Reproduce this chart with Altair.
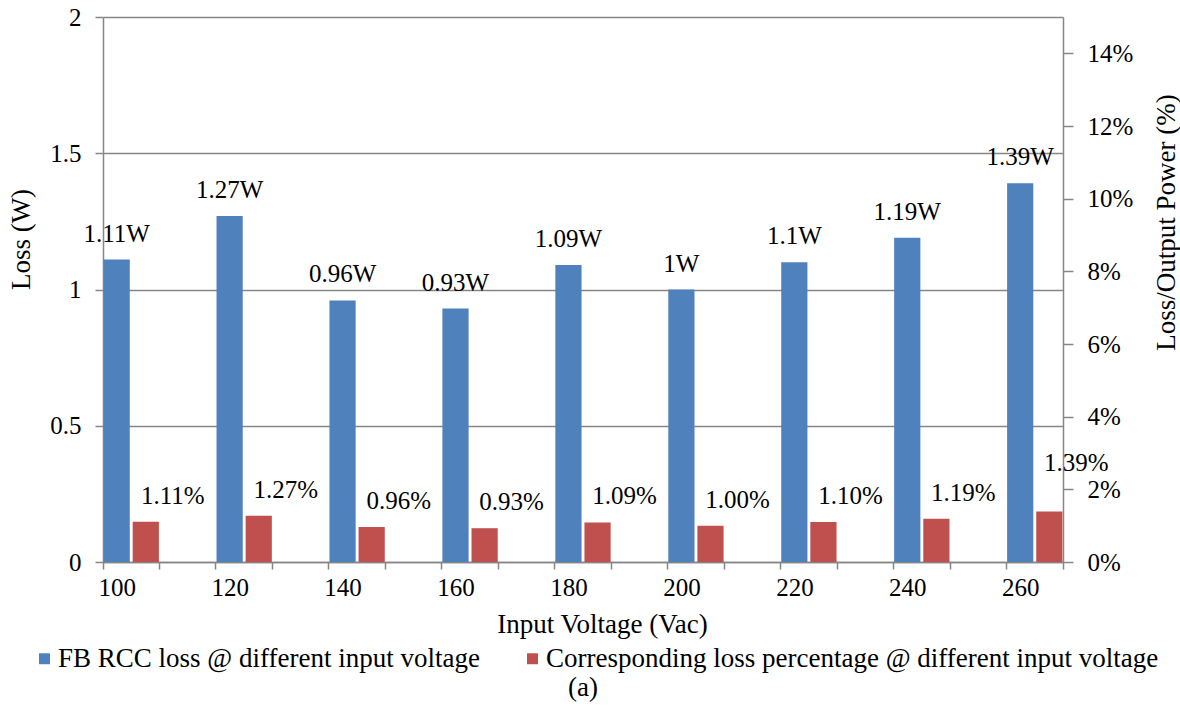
import altair as alt
import pandas as pd

# ---- data ----
voltages = [100, 120, 140, 160, 180, 200, 220, 240, 260]
loss_w = [1.11, 1.27, 0.96, 0.93, 1.09, 1.00, 1.10, 1.19, 1.39]
loss_pct = [1.11, 1.27, 0.96, 0.93, 1.09, 1.00, 1.10, 1.19, 1.39]
series = [
    "FB RCC loss @ different input voltage",
    "Corresponding loss percentage @ different input voltage",
]
# category slots on the axis (labelled every other slot)
slots = list(range(100, 261, 10))
# extra lift (in %) for the last percentage label, moved up in the original
pct_label_lift = [0, 0, 0, 0, 0, 0, 0, 0, 0.63]

BLUE = "#4F81BD"
RED = "#C0504D"
GRAY = "#868686"
FONT = "Liberation Serif, Times New Roman, serif"
FS = 25      # value labels and tick labels
FS_T = 27    # axis titles, legend, caption

df_w = pd.DataFrame({"voltage": voltages, "value": loss_w, "series": series[0]})
df_p = pd.DataFrame({"voltage": voltages, "value": loss_pct, "series": series[1],
                     "lift": pct_label_lift})

x_axis = alt.Axis(
    title="Input Voltage (Vac)",
    bandPosition=1,
    tickExtra=True,
    labelExpr="(datum.value - 100) % 20 == 0 ? datum.label : ''",
    labelOffset=-14,
    labelAngle=0,
    labelOverlap=False,
    tickSize=7,
    labelPadding=6,
    titleX=499,
    titleY=62,
    titleBaseline="middle",
    titleAlign="center",
)
x_enc = alt.X("voltage:O", scale=alt.Scale(domain=slots, paddingInner=0, paddingOuter=0), axis=x_axis)
xoff = alt.XOffset("series:N", scale=alt.Scale(domain=series, paddingInner=0.1, paddingOuter=0.02))
color = alt.Color(
    "series:N",
    scale=alt.Scale(domain=series, range=[BLUE, RED]),
    legend=alt.Legend(
        title=None,
        orient="none",
        direction="horizontal",
        legendX=-77,
        legendY=628,
        padding=0,
        symbolType="square",
        symbolSize=120,
        symbolStrokeWidth=0,
        symbolOpacity=1,
        symbolOffset=5,
        labelFont=FONT,
        labelFontSize=FS_T,
        labelColor="black",
        labelOffset=0,
        columnPadding=34,
        labelLimit=900,
    ),
)

left_axis = alt.Axis(
    title="Loss (W)",
    values=[0, 0.5, 1, 1.5, 2],
    format="~g",
    grid=True,
    tickSize=8,
    labelPadding=14,
    titleX=-82,
    titleY=222,
    titleAngle=270,
    titleBaseline="middle",
    titleAlign="center",
)
y_left = alt.Scale(domain=[0, 2], nice=False)

right_axis = alt.Axis(
    title="Loss/Output Power (%)",
    orient="right",
    values=[0, 2, 4, 6, 8, 10, 12, 14],
    labelExpr="datum.value + '%'",
    grid=False,
    tickSize=10,
    labelPadding=14,
    titleX=103,
    titleY=205,
    titleAngle=270,
    titleBaseline="middle",
    titleAlign="center",
)
y_right = alt.Scale(domain=[0, 15], nice=False)

blue_bars = alt.Chart(df_w).mark_bar(opacity=1).encode(
    x=x_enc, xOffset=xoff,
    y=alt.Y("value:Q", scale=y_left, axis=left_axis),
    color=color,
)
blue_text = alt.Chart(df_w).transform_calculate(
    lbl="format(datum.value, '~g') + 'W'"
).mark_text(font=FONT, fontSize=FS, color="black", baseline="alphabetic", align="center", dy=-18).encode(
    x=x_enc, xOffset=xoff,
    y=alt.Y("value:Q", scale=y_left, axis=left_axis),
    text="lbl:N",
)

red_bars = alt.Chart(df_p).mark_bar(opacity=1).encode(
    x=x_enc, xOffset=xoff,
    y=alt.Y("value:Q", scale=y_right, axis=right_axis),
    color=color,
)
red_text = alt.Chart(df_p).transform_calculate(
    lbl="format(datum.value, '.2f') + '%'",
    pos="datum.value + datum.lift",
).mark_text(font=FONT, fontSize=FS, color="black", baseline="alphabetic", align="center", dx=27, dy=-18).encode(
    x=x_enc, xOffset=xoff,
    y=alt.Y("pos:Q", scale=y_right, axis=right_axis),
    text="lbl:N",
)

left = alt.layer(blue_bars, blue_text)
right = alt.layer(red_bars, red_text)

chart = (
    alt.layer(left, right)
    .resolve_scale(y="independent")
    .properties(
        width=960,
        height=545,
        autosize=alt.AutoSizeParams(type="none"),
        padding={"left": 103, "top": 17, "right": 117, "bottom": 155},
        title=alt.TitleParams("(a)", orient="bottom", anchor="middle", font=FONT, fontSize=FS_T,
                              fontWeight="normal", color="black", offset=3),
        background="white",
    )
    .configure_view(stroke=None)
    .configure_axis(
        labelFont=FONT, labelFontSize=FS, labelColor="black",
        titleFont=FONT, titleFontSize=FS_T, titleColor="black", titleFontWeight="normal",
        domainColor=GRAY, tickColor=GRAY, gridColor=GRAY, domainWidth=1.5, tickWidth=1.5, gridWidth=1.5,
    )
)

chart.save("out.html", embed_options={"renderer": "svg", "actions": False})
